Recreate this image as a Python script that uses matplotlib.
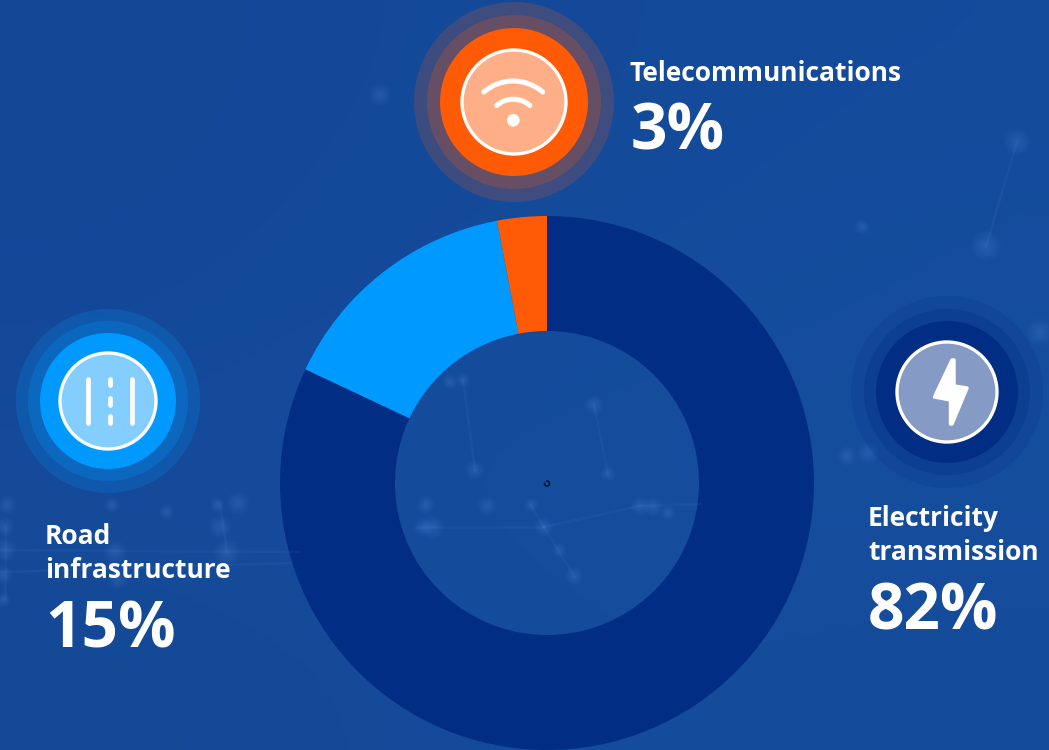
"""Infrastructure share donut with icon badges on a dark blue network backdrop."""

import numpy as np
import matplotlib
matplotlib.use("Agg")
import matplotlib.pyplot as plt
from matplotlib.patches import Arc, Circle, Polygon

WIDTH, HEIGHT = 1049, 750

labels = ["Electricity\ntransmission", "Road\ninfrastructure", "Telecommunications"]
shares = [82, 15, 3]
colors = ["#012e84", "#0099ff", "#ff5a06"]

# backdrop colours, coarse grid (top row first)
bg_grid = np.array([
    [[20, 72, 151], [20, 73, 153], [20, 74, 154], [21, 75, 155]],
    [[19, 72, 152], [20, 74, 154], [20, 75, 156], [21, 77, 158]],
    [[21, 75, 154], [21, 76, 155], [22, 78, 158], [22, 78, 158]],
    [[20, 73, 150], [20, 74, 153], [21, 76, 156], [21, 75, 155]],
]) / 255

# faint network nodes: x, y, radius
glows = [
    (380, 95, 6), (1017, 142, 7), (986, 246, 8), (862, 227, 4), (1040, 332, 7),
    (868, 453, 6), (847, 456, 5), (450, 382, 4), (463, 380, 4), (594, 405, 5),
    (475, 470, 5), (608, 474, 4), (426, 505, 5), (487, 506, 5), (531, 505, 4),
    (544, 527, 5), (559, 550, 4), (574, 576, 5), (433, 527, 6), (423, 527, 5),
    (640, 506, 5), (653, 507, 5), (668, 513, 4), (7, 505, 5), (5, 527, 5),
    (5, 550, 6), (112, 505, 4), (167, 512, 4), (217, 505, 4), (238, 503, 6),
    (220, 527, 6), (227, 552, 7), (115, 552, 6), (118, 580, 5), (3, 575, 5),
    (3, 600, 4),
]
links = [
    ((594, 405), (608, 474)), ((544, 527), (574, 576)), ((531, 505), (544, 527)),
    ((544, 527), (640, 506)), ((417, 527), (544, 527)), ((463, 380), (475, 470)),
    ((640, 506), (700, 504)), ((986, 246), (1017, 142)), ((0, 550), (300, 552)),
    ((0, 572), (290, 563)), ((5, 527), (5, 600)), ((220, 503), (227, 552)),
]

# badge: centre x, y, ring radii (outer, mid, core, disc)
wifi_badge = (514, 102, (100, 87, 74, 52))
road_badge = (108, 401, (92, 80, 68, 48))
bolt_badge = (947, 392, (96, 83, 71, 50))

# corners of the bolt icon
bolt_shape = [(952, 360), (954, 360), (954, 386), (967, 388), (952, 424), (950.5, 424),
              (950.5, 400), (934.5, 397)]


def py(y):
    """Pixel row to the y-up data coordinate."""
    return HEIGHT - y


def draw_badge(ax, badge, color, ring_alpha):
    x, y, (outer, mid, core, disc) = badge
    ax.add_patch(Circle((x, py(y)), outer, color=color, alpha=ring_alpha[0], lw=0, zorder=3))
    ax.add_patch(Circle((x, py(y)), mid, color=color, alpha=ring_alpha[1], lw=0, zorder=3))
    ax.add_patch(Circle((x, py(y)), core, color=color, lw=0, zorder=3))
    ax.add_patch(Circle((x, py(y)), disc, facecolor=(1, 1, 1, 0.52), edgecolor="white",
                        lw=2.4, zorder=4))


fig = plt.figure(figsize=(WIDTH / 100, HEIGHT / 100), dpi=100)
ax = fig.add_axes([0, 0, 1, 1])

ax.pie(shares, colors=colors, startangle=90, counterclock=False, center=(547, py(483)),
       radius=267, wedgeprops={"width": 115, "linewidth": 0})

ax.imshow(bg_grid, extent=(0, WIDTH, 0, HEIGHT), interpolation="bicubic", aspect="auto", zorder=0)
ax.set_xlim(0, WIDTH)
ax.set_ylim(0, HEIGHT)
ax.set_aspect("equal")
ax.axis("off")

for a, b in links:
    ax.plot([a[0], b[0]], [py(a[1]), py(b[1])], color="#6fa3e0", lw=1.8, alpha=0.07, zorder=1)
for gx, gy, gr in glows:
    # stacked low-alpha discs give a soft blob
    for scale in np.linspace(2.0, 0.2, 16):
        ax.add_patch(Circle((gx, py(gy)), gr * scale, color="#7fb0ea", alpha=0.016,
                            lw=0, zorder=1))

draw_badge(ax, wifi_badge, colors[2], (0.18, 0.21))
draw_badge(ax, road_badge, colors[1], (0.19, 0.235))
draw_badge(ax, bolt_badge, colors[0], (0.2, 0.3))

# wifi icon
ax.add_patch(Arc((513.3, py(126)), 90, 90, theta1=49, theta2=131, color="white", lw=3.6,
                 capstyle="round", zorder=5))
ax.add_patch(Arc((513.3, py(124)), 49.6, 49.6, theta1=48, theta2=132, color="white", lw=3.6,
                 capstyle="round", zorder=5))
ax.add_patch(Circle((513.3, py(120.3)), 6.3, color="white", lw=0, zorder=5))

# road icon
for lx in (88.3, 131.7):
    ax.plot([lx, lx], [py(379.4), py(422.6)], color="white", lw=3.4,
            solid_capstyle="round", zorder=5)
for y0, y1 in ((379.4, 384.6), (398.4, 404.6), (416.4, 422.6)):
    ax.plot([109.7, 109.7], [py(y0), py(y1)], color="white", lw=3.4,
            solid_capstyle="round", zorder=5)

# bolt icon
ax.add_patch(Polygon([(x, py(y)) for x, y in bolt_shape], closed=True, facecolor="white",
                     edgecolor="white", lw=2.5, joinstyle="round", zorder=5))

# small stray spinner in the middle of the ring
ax.add_patch(Arc((547, py(483.5)), 5, 5, theta1=-200, theta2=110, color="#05102e", lw=1.1, zorder=5))

font = {"family": "Open Sans", "weight": "bold", "color": "white", "zorder": 6}
ax.text(630, py(81), labels[2], fontsize=19, va="baseline", **font)
ax.text(631, py(150), f"{shares[2]}%", fontsize=46, va="baseline", **font)
ax.text(45, py(544), labels[1].split("\n")[0], fontsize=19, va="baseline", **font)
ax.text(45, py(578), labels[1].split("\n")[1], fontsize=19, va="baseline", **font)
ax.text(45, py(648), f"{shares[1]}%", fontsize=46, va="baseline", **font)
ax.text(868, py(526), labels[0].split("\n")[0], fontsize=19, va="baseline", **font)
ax.text(868, py(560), labels[0].split("\n")[1], fontsize=19, va="baseline", **font)
ax.text(868, py(630), f"{shares[0]}%", fontsize=46, va="baseline", **font)

fig.savefig("out.png", dpi=100)
